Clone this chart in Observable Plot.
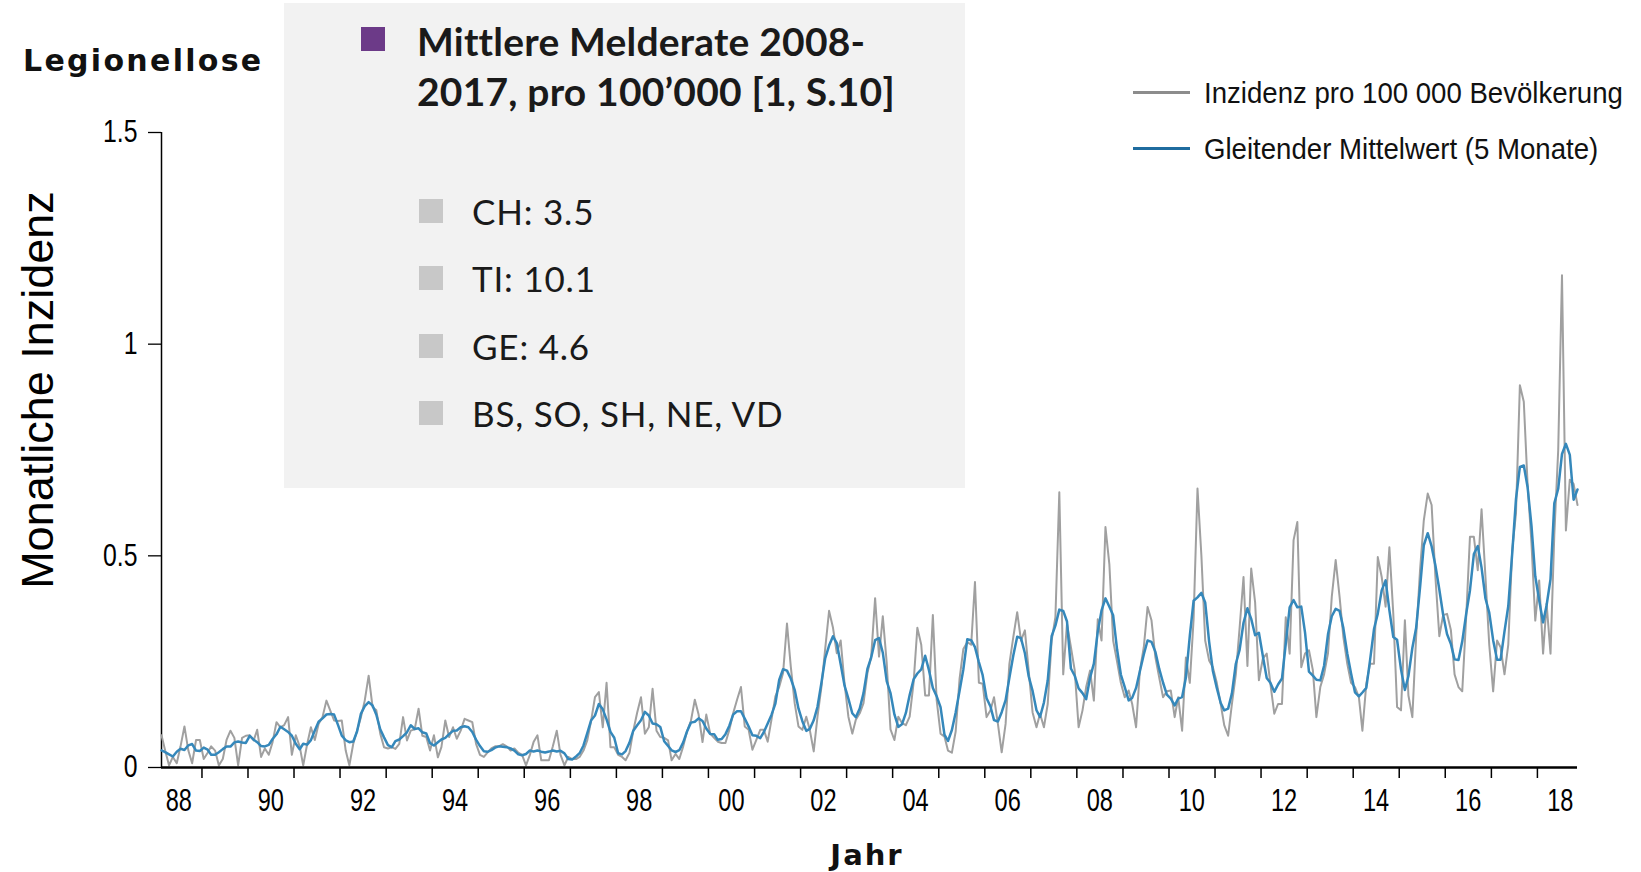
<!DOCTYPE html>
<html>
<head>
<meta charset="utf-8">
<script src="https://cdn.jsdelivr.net/npm/d3@7"></script>
<script src="https://cdn.jsdelivr.net/npm/@observablehq/plot@0.6"></script>
<style>
  html, body { margin: 0; padding: 0; background: #fff; }
  body { width: 1641px; height: 872px; overflow: hidden; position: relative; }
  #chart { position: absolute; left: 0; top: 0; }
  .abs { position: absolute; white-space: nowrap; }
  #title { left: 23px; top: 46px; font: bold 30px "DejaVu Sans", sans-serif; line-height: 30px; letter-spacing: 2.3px; color: #111; }
  #xlabel { left: 867px; top: 841px; transform: translateX(-50%); font: bold 29px "DejaVu Sans", sans-serif; line-height: 29px; letter-spacing: 2px; color: #111; }
  #ylabel { left: 37px; top: 390px; transform: translate(-50%, -50%) rotate(-90deg); font: 45px "Liberation Sans", Arial, sans-serif; line-height: 45px; color: #000; }
  #box { left: 284px; top: 3px; width: 681px; height: 485px; background: #f2f2f2; }
  #box .sq { position: absolute; width: 24px; height: 24px; }
  #box .head { position: absolute; left: 133px; top: 13px; font: bold 39px Lato, "Open Sans", sans-serif; line-height: 50px; letter-spacing: 0.2px; color: #1a1a1a; }
  #box .item { position: absolute; left: 188px; font: 35px Lato, "Open Sans", sans-serif; line-height: 40px; letter-spacing: 0.8px; color: #1a1a1a; white-space: nowrap; }
  .leg { position: absolute; font: 30px "Liberation Sans", Arial, sans-serif; line-height: 30px; color: #111; white-space: nowrap; transform: scaleX(0.92); transform-origin: 0 0; }
  .legline { position: absolute; width: 57px; height: 3px; }
</style>
</head>
<body>
<div id="chart"></div>
<div id="title" class="abs"></div>
<div id="ylabel" class="abs"></div>
<div id="xlabel" class="abs"></div>
<div id="box" class="abs"></div>
<div id="legend"></div>
<script>
// ---------- data ----------
const chartTitle = "Legionellose";
const yTitle = "Monatliche Inzidenz";
const xTitle = "Jahr";
const seriesNames = ["Inzidenz pro 100 000 Bevölkerung", "Gleitender Mittelwert (5 Monate)"];
const boxTitle = ["Mittlere Melderate 2008-", "2017, pro 100’000 [1, S.10]"];
const boxItems = ["CH: 3.5", "TI: 10.1", "GE: 4.6", "BS, SO, SH, NE, VD"];

const years = [1988, 1989, 1990, 1991, 1992, 1993, 1994, 1995, 1996, 1997, 1998, 1999, 2000,
  2001, 2002, 2003, 2004, 2005, 2006, 2007, 2008, 2009, 2010, 2011, 2012, 2013, 2014, 2015,
  2016, 2017, 2018];
const firstMonth = 2; // series starts February 1988

// monthly incidence per 100 000, one row per year (1988 from Feb, 2018 to Nov)
const incidence = [
  [0.076, 0.04, 0.005, 0.025, 0.01, 0.05, 0.097, 0.04, 0.01, 0.065, 0.065],
  [0.02, 0.035, 0.05, 0.04, 0.005, 0.02, 0.065, 0.087, 0.07, 0.005, 0.07, 0.075],
  [0.076, 0.064, 0.089, 0.025, 0.045, 0.03, 0.06, 0.107, 0.095, 0.1, 0.119, 0.03],
  [0.076, 0.05, 0.005, 0.055, 0.095, 0.065, 0.103, 0.119, 0.158, 0.135, 0.111, 0.11],
  [0.111, 0.04, 0.005, 0.056, 0.087, 0.119, 0.158, 0.217, 0.143, 0.135, 0.08, 0.048],
  [0.045, 0.048, 0.044, 0.056, 0.119, 0.064, 0.087, 0.09, 0.139, 0.075, 0.072, 0.04],
  [0.076, 0.024, 0.048, 0.111, 0.072, 0.095, 0.068, 0.087, 0.115, 0.111, 0.107, 0.056],
  [0.03, 0.025, 0.035, 0.045, 0.05, 0.05, 0.055, 0.05, 0.04, 0.045, 0.035, 0.03],
  [0.005, 0.03, 0.06, 0.076, 0.017, 0.017, 0.017, 0.05, 0.087, 0.03, 0.005, 0.025],
  [0.02, 0.02, 0.025, 0.04, 0.064, 0.111, 0.166, 0.178, 0.095, 0.2, 0.048, 0.048],
  [0.03, 0.025, 0.017, 0.035, 0.087, 0.13, 0.166, 0.08, 0.095, 0.186, 0.087, 0.072],
  [0.07, 0.064, 0.017, 0.032, 0.02, 0.05, 0.085, 0.11, 0.16, 0.125, 0.06, 0.125],
  [0.08, 0.07, 0.061, 0.058, 0.058, 0.089, 0.128, 0.16, 0.19, 0.097, 0.089, 0.042],
  [0.065, 0.089, 0.089, 0.061, 0.113, 0.168, 0.19, 0.223, 0.34, 0.239, 0.152, 0.097],
  [0.089, 0.12, 0.089, 0.038, 0.12, 0.19, 0.28, 0.37, 0.33, 0.27, 0.3, 0.2],
  [0.12, 0.08, 0.113, 0.128, 0.152, 0.223, 0.262, 0.4, 0.262, 0.357, 0.247, 0.09],
  [0.065, 0.12, 0.105, 0.1, 0.12, 0.2, 0.33, 0.29, 0.17, 0.17, 0.36, 0.16],
  [0.08, 0.073, 0.04, 0.035, 0.085, 0.21, 0.28, 0.296, 0.29, 0.438, 0.2, 0.198],
  [0.119, 0.135, 0.166, 0.103, 0.036, 0.103, 0.245, 0.308, 0.367, 0.3, 0.324, 0.229],
  [0.13, 0.095, 0.127, 0.095, 0.15, 0.3, 0.355, 0.65, 0.22, 0.34, 0.284, 0.23],
  [0.095, 0.135, 0.19, 0.229, 0.158, 0.35, 0.3, 0.568, 0.48, 0.3, 0.25, 0.2],
  [0.166, 0.182, 0.15, 0.095, 0.229, 0.284, 0.379, 0.348, 0.26, 0.213, 0.166, 0.18],
  [0.182, 0.119, 0.166, 0.087, 0.26, 0.2, 0.35, 0.659, 0.5, 0.3, 0.253, 0.237],
  [0.2, 0.15, 0.1, 0.075, 0.15, 0.22, 0.33, 0.45, 0.24, 0.47, 0.39, 0.206],
  [0.257, 0.269, 0.198, 0.127, 0.15, 0.15, 0.355, 0.269, 0.537, 0.58, 0.237, 0.269],
  [0.277, 0.23, 0.119, 0.19, 0.22, 0.27, 0.403, 0.49, 0.403, 0.308, 0.245, 0.2],
  [0.19, 0.166, 0.087, 0.198, 0.245, 0.245, 0.497, 0.45, 0.38, 0.52, 0.363, 0.143],
  [0.135, 0.348, 0.17, 0.119, 0.308, 0.466, 0.584, 0.647, 0.62, 0.45, 0.31, 0.36],
  [0.363, 0.324, 0.22, 0.19, 0.18, 0.355, 0.545, 0.545, 0.466, 0.61, 0.45, 0.29],
  [0.18, 0.3, 0.284, 0.22, 0.29, 0.513, 0.6, 0.903, 0.864, 0.67, 0.53, 0.347],
  [0.442, 0.269, 0.387, 0.269, 0.55, 0.75, 1.163, 0.56, 0.68, 0.67, 0.62]
];

const tickYears = [1989, 1990, 1991, 1992, 1993, 1994, 1995, 1996, 1997, 1998, 1999, 2000, 2001,
  2002, 2003, 2004, 2005, 2006, 2007, 2008, 2009, 2010, 2011, 2012, 2013, 2014, 2015, 2016, 2017, 2018];
const labelYears = [1988, 1990, 1992, 1994, 1996, 1998, 2000, 2002, 2004, 2006, 2008, 2010, 2012, 2014, 2016, 2018];
const xTickLabels = ["88", "90", "92", "94", "96", "98", "00", "02", "04", "06", "08", "10", "12", "14", "16", "18"];
const yTicks = [0, 0.5, 1, 1.5];
const yTickLabels = ["0", "0.5", "1", "1.5"];

// ---------- build ----------
const rows = [];
incidence.forEach((row, i) => {
  const m0 = i === 0 ? firstMonth - 1 : 0;
  row.forEach((v, j) => rows.push({date: new Date(Date.UTC(years[i], m0 + j, 15)), value: v}));
});

const tickDates = tickYears.map(y => new Date(Date.UTC(y, 0, 1)));
const labelDates = labelYears.map(y => new Date(Date.UTC(y, 6, 1)));
const domain = [rows[0].date, rows[rows.length - 1].date];

const tickFont = "'Liberation Sans Narrow', 'Liberation Sans', Arial, sans-serif";

const chart = Plot.plot({
  width: 1641,
  height: 872,
  marginLeft: 161,
  marginRight: 64,
  marginTop: 132,
  marginBottom: 105,
  style: {background: "transparent", fontFamily: tickFont, fontSize: "31px", color: "#000", overflow: "visible"},
  x: {type: "utc", domain},
  y: {domain: [0, 1.5]},
  marks: [
    Plot.axisX({ticks: tickDates, tickSize: 11, tickFormat: () => "", label: null, strokeWidth: 1.5}),
    Plot.axisX({ticks: labelDates, tickSize: 0, tickPadding: 21, label: null,
      tickFormat: d => xTickLabels[labelDates.findIndex(t => +t === +d)]}),
    Plot.axisY({ticks: yTicks, tickSize: 13, tickPadding: 11, label: null, strokeWidth: 1.3,
      tickFormat: d => yTickLabels[yTicks.indexOf(d)]}),
    Plot.ruleX([domain[0]], {stroke: "#000", strokeWidth: 1.5}),
    Plot.lineY(rows, {x: "date", y: "value", stroke: "#a0a0a0", strokeWidth: 2}),
    Plot.lineY(rows, Plot.windowY({k: 5, reduce: "mean"}, {x: "date", y: "value", stroke: "#3588bb", strokeWidth: 2.5})),
    Plot.ruleY([0], {stroke: "#000", strokeWidth: 2.5})
  ]
});
document.getElementById("chart").appendChild(chart);

// narrow, tall tick glyphs like the original pixel font (squeeze glyphs in place)
function squeeze(selector, sx) {
  chart.querySelectorAll(selector).forEach(t => {
    const w = t.getComputedTextLength();
    if (w > 0) {
      t.setAttribute("textLength", (w * sx).toFixed(2));
      t.setAttribute("lengthAdjust", "spacingAndGlyphs");
    }
  });
}
squeeze('g[aria-label="x-axis tick label"] text', 0.76);
squeeze('g[aria-label="y-axis tick label"] text', 0.8);

// ---------- texts & legends ----------
document.getElementById("title").textContent = chartTitle;
document.getElementById("ylabel").textContent = yTitle;
document.getElementById("xlabel").textContent = xTitle;

const box = document.getElementById("box");
const psq = document.createElement("div");
psq.className = "sq";
psq.style.cssText = "left:77px;top:24px;background:#6c3a88;";
box.appendChild(psq);
const head = document.createElement("div");
head.className = "head";
head.innerHTML = boxTitle.join("<br>");
box.appendChild(head);
boxItems.forEach((t, i) => {
  const s = document.createElement("div");
  s.className = "sq";
  s.style.cssText = `left:135px;top:${196 + i * 67.3}px;background:#c8c8c8;`;
  box.appendChild(s);
  const d = document.createElement("div");
  d.className = "item";
  d.style.top = `${188 + i * 67.3}px`;
  d.textContent = t;
  box.appendChild(d);
});

const legend = document.getElementById("legend");
const legColors = ["#8c8c8c", "#1f6c9f"];
seriesNames.forEach((name, i) => {
  const l = document.createElement("div");
  l.className = "legline";
  l.style.cssText = `left:1133px;top:${90.5 + i * 56.6}px;background:${legColors[i]};`;
  legend.appendChild(l);
  const t = document.createElement("div");
  t.className = "leg";
  t.style.cssText = `left:1204px;top:${77.6 + i * 56.6}px;`;
  t.textContent = name;
  legend.appendChild(t);
});
</script>
</body>
</html>
